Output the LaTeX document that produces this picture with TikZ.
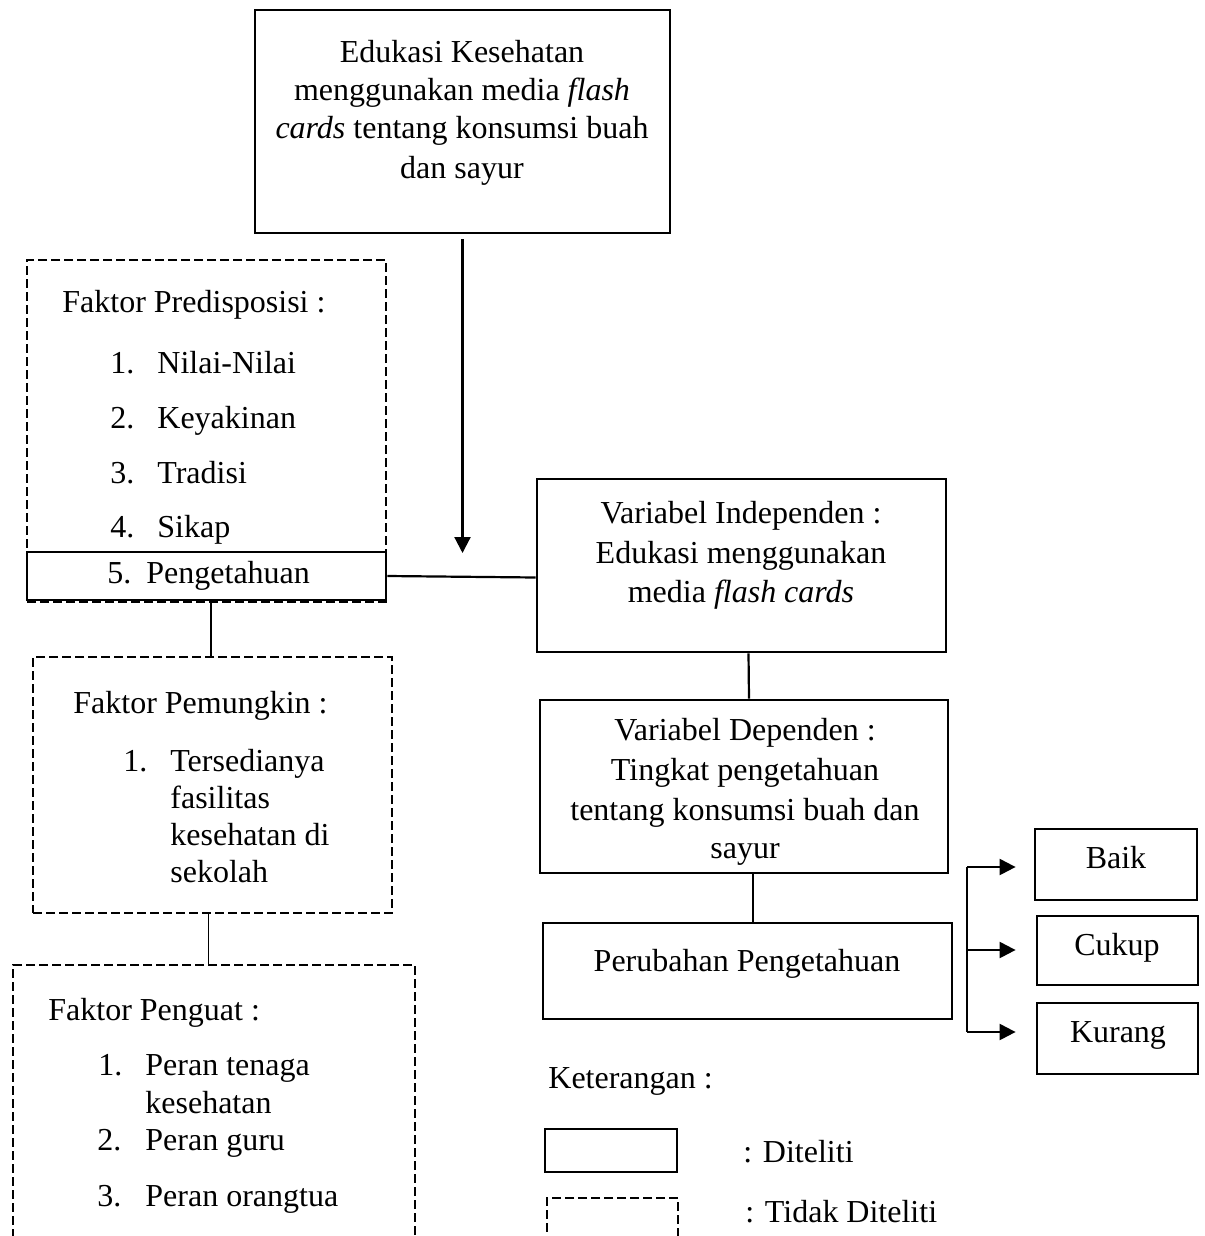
\documentclass[tikz,border=0pt]{standalone}
\usepackage{fontspec}
\setmainfont{Liberation Serif}
\usetikzlibrary{arrows.meta,calc,fit}
\begin{document}
\begin{tikzpicture}[x=0.5pt,y=-0.5pt,
  solidbox/.style={draw,line width=1.4pt,inner sep=0pt},
  dashbox/.style={draw,line width=1.15pt,dash pattern=on 4.5pt off 2pt,inner sep=0pt},
  txt/.style={inner sep=0pt,anchor=base,font=\fontsize{16}{19}\selectfont},
  ltxt/.style={txt,anchor=base west},
  conn/.style={line width=1.1pt},
  thinconn/.style={line width=0.5pt},
  arr/.style={line width=1.1pt,-{Triangle[length=8pt,width=8pt]}}
]
\useasboundingbox (0,0) rectangle (1204,1236);

% top box
\node[solidbox,line width=1pt,fit={(255,10) (670,233)}] (edu) {};
\node[txt] (edu1) at (462,63) {Edukasi Kesehatan};
\node[txt] (edu2) at (462,101) {menggunakan media \textit{flash}};
\node[txt] (edu3) at (462,139) {\textit{cards} tentang konsumsi buah};
\node[txt] (edu4) at (462,178) {dan sayur};

% predisposisi
\node[dashbox,fit={(27,260) (386,602)}] (pre) {};
\node[solidbox,fit={(27,552) (386,600)}] (peng) {};
\node[ltxt] (preT) at (62,312) {Faktor Predisposisi :};
\node[ltxt] (pn1) at (110,373) {1.}; \node[ltxt] (p1) at (157,373) {Nilai-Nilai};
\node[ltxt] (pn2) at (110,428) {2.}; \node[ltxt] (p2) at (157,428) {Keyakinan};
\node[ltxt] (pn3) at (110,483) {3.}; \node[ltxt] (p3) at (157,483) {Tradisi};
\node[ltxt] (pn4) at (110,537) {4.}; \node[ltxt] (p4) at (157,537) {Sikap};
\node[ltxt] (pn5) at (107,583) {5.}; \node[ltxt] (p5) at (146,583) {Pengetahuan};

% pemungkin
\node[dashbox,fit={(33,657) (392,913)}] (pem) {};
\node[ltxt] (pemT) at (73,713) {Faktor Pemungkin :};
\node[ltxt] (mn1) at (123,771) {1.};
\node[ltxt] (m1a) at (170,771) {Tersedianya};
\node[ltxt] (m1b) at (170,808) {fasilitas};
\node[ltxt] (m1c) at (170,845) {kesehatan di};
\node[ltxt] (m1d) at (170,882) {sekolah};

% penguat
\node[dashbox,fit={(13,965) (415,1275)}] (pgt) {};
\node[ltxt] (pgtT) at (48,1020) {Faktor Penguat :};
\node[ltxt] (gn1) at (98,1075) {1.}; \node[ltxt] (g1a) at (145,1075) {Peran tenaga};
\node[ltxt] (g1b) at (145,1113) {kesehatan};
\node[ltxt] (gn2) at (97,1150) {2.}; \node[ltxt] (g2) at (145,1150) {Peran guru};
\node[ltxt] (gn3) at (97,1206) {3.}; \node[ltxt] (g3) at (145,1206) {Peran orangtua};

% variabel independen
\node[solidbox,fit={(537,479) (946,652)}] (vi) {};
\node[txt] (vi1) at (741,523) {Variabel Independen :};
\node[txt] (vi2) at (741,563) {Edukasi menggunakan};
\node[txt] (vi3) at (741,602) {media \textit{flash cards}};

% variabel dependen
\node[solidbox,fit={(540,700) (948,873)}] (vd) {};
\node[txt] (vd1) at (745,740) {Variabel Dependen :};
\node[txt] (vd2) at (745,780) {Tingkat pengetahuan};
\node[txt] (vd3) at (745,820) {tentang konsumsi buah dan};
\node[txt] (vd4) at (745,858) {sayur};

% perubahan
\node[solidbox,fit={(543,923) (952,1019)}] (perub) {};
\node[txt] (perubT) at (747,971) {Perubahan Pengetahuan};

% outcome boxes
\node[solidbox,fit={(1035,829) (1197,900)}] (baik) {};
\node[txt] at (1116,868) {Baik};
\node[solidbox,fit={(1037,916) (1198,985)}] (cukup) {};
\node[txt] at (1117,955) {Cukup};
\node[solidbox,fit={(1037,1003) (1198,1074)}] (kurang) {};
\node[txt] at (1118,1042) {Kurang};

% legend
\node[ltxt] (ket) at (548,1088) {Keterangan :};
\node[solidbox,fit={(545,1129) (677,1172)}] (legs) {};
\node[ltxt] (legsT) at (743,1162) {: Diteliti};
\node[dashbox,fit={(547,1198) (678,1275)}] (legd) {};
\node[ltxt] (legdT) at (745,1222) {: Tidak Diteliti};

% connectors
\coordinate (tip) at (462.5,553);
\draw[arr] ($(edu.south)+(0,5)$) -- (tip);
\draw[conn] (peng.east) -- ($(vi.west)+(0,12)$);
\draw[line width=1.3pt] ($(peng.south)+(4.5,0)$) -- ($(pem.north)+(-1.5,0)$);
\draw[thinconn] ($(pem.south)+(-4.5,0)$) -- ($(pgt.north)+(-6,0)$);
\draw[conn] ($(vi.south)+(7,0)$) -- ($(vd.north)+(5,0)$);
\draw[conn] ($(vd.south)+(9,0)$) -- ($(perub.north)+(5.5,0)$);

\coordinate (b1) at (967,867);
\coordinate (b2) at (967,950);
\coordinate (b3) at (967,1032);
\draw[conn] (b1) -- (b3);
\draw[arr,shorten >=9pt] (b1) -- (b1 -| baik.west);
\draw[arr,shorten >=10pt] (b2) -- (b2 -| cukup.west);
\draw[arr,shorten >=10pt] (b3) -- (b3 -| kurang.west);
\end{tikzpicture}
\end{document}
